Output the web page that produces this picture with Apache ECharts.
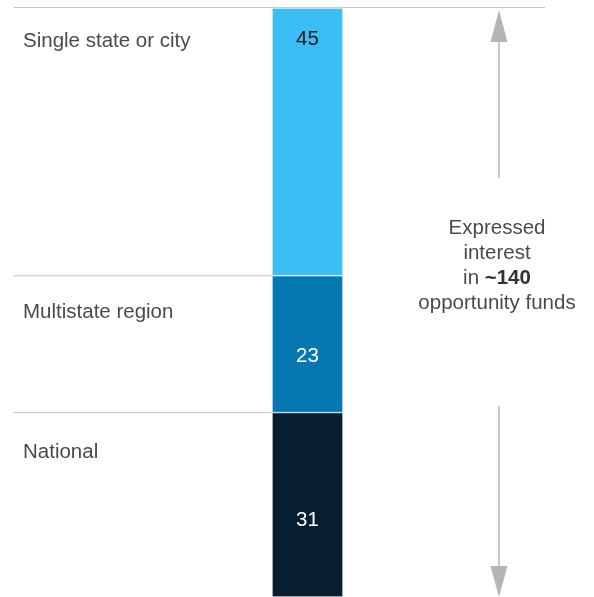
<!DOCTYPE html>
<html><head><meta charset="utf-8">
<script src="https://cdn.jsdelivr.net/npm/echarts@6/dist/echarts.min.js"></script>
<style>html,body{margin:0;padding:0;background:#fff}#c{width:594px;height:597px}</style>
</head><body><div id="c"></div>
<script>
const categories = ['Single state or city', 'Multistate region', 'National'];
const values = [45, 23, 31];
const colors = ['#3bbef6', '#0577b1', '#061e2f'];
const labelColors = ['#1a1a1a', '#ffffff', '#ffffff'];
const annotationLines = ['Expressed', 'interest', 'in ~140', 'opportunity funds'];
const total = values.reduce((a, b) => a + b, 0);

const FONT = '"Liberation Sans", Arial, sans-serif';
const FS = 20.5;
const chart = echarts.init(document.getElementById('c'));

const labelOffsets = [[0, 1], [0, 12], [0, 16]];
const series = values.map((v, i) => ({
  type: 'bar', stack: 's', name: categories[i], data: [v], barWidth: '100%',
  itemStyle: { color: colors[i], borderColor: '#ffffff', borderWidth: 0.6 },
  label: {
    show: true,
    position: i === 0 ? 'insideTop' : 'inside',
    distance: 20,
    offset: labelOffsets[i],
    color: labelColors[i], fontSize: FS, fontFamily: FONT
  }
}));

chart.setOption({
  animation: false,
  grid: { left: 272, width: 71, top: 8, bottom: 0 },
  xAxis: { type: 'category', data: ['all'], show: false },
  yAxis: { type: 'value', min: 0, max: total, inverse: true, show: false },
  series: series
});

function draw() {
  const graphics = [];
  const gray = '#c4c4c4';
  const yTop = chart.convertToPixel({ yAxisIndex: 0 }, 0);
  const barLeft = 272;
  const catOffsets = [33, 37, 40];
  graphics.push({ type: 'line', shape: { x1: 14, y1: yTop - 0.5, x2: 545, y2: yTop - 0.5 }, style: { stroke: gray, lineWidth: 1 }, z: 1 });
  let cum = 0;
  values.forEach((v, i) => {
    const y0 = chart.convertToPixel({ yAxisIndex: 0 }, cum);
    if (i > 0) {
      graphics.push({ type: 'line', shape: { x1: 14, y1: y0, x2: barLeft, y2: y0 }, style: { stroke: gray, lineWidth: 1 }, z: 1 });
    }
    graphics.push({ type: 'text', x: 23, y: y0 + catOffsets[i], style: { text: categories[i], fill: '#4a4a4a', fontSize: FS, fontFamily: FONT, verticalAlign: 'middle' } });
    cum += v;
  });
  const ax = 499, arrowCol = '#b5b5b5';
  const yBot = chart.convertToPixel({ yAxisIndex: 0 }, total);
  graphics.push({ type: 'line', shape: { x1: ax, y1: yTop + 20, x2: ax, y2: 178 }, style: { stroke: arrowCol, lineWidth: 1.5 } });
  graphics.push({ type: 'polygon', shape: { points: [[ax, yTop + 2], [ax - 8.5, yTop + 34], [ax + 8.5, yTop + 34]] }, style: { fill: arrowCol } });
  graphics.push({ type: 'line', shape: { x1: ax, y1: 406, x2: ax, y2: yBot - 20 }, style: { stroke: arrowCol, lineWidth: 1.5 } });
  graphics.push({ type: 'polygon', shape: { points: [[ax, yBot], [ax - 8.5, yBot - 31], [ax + 8.5, yBot - 31]] }, style: { fill: arrowCol } });
  const txt = annotationLines.map(l => l.replace(/(~\d+)/, '{b|$1}')).join('\n');
  graphics.push({ type: 'text', x: 497, y: 216, style: {
    text: txt, align: 'center', verticalAlign: 'top', fill: '#4a4a4a',
    fontSize: FS, fontFamily: FONT, lineHeight: 25,
    rich: { b: { fontWeight: 'bold', fill: '#333333', fontSize: FS, fontFamily: FONT, lineHeight: 25 } }
  } });
  chart.setOption({ graphic: graphics });
}
draw();
</script></body></html>
